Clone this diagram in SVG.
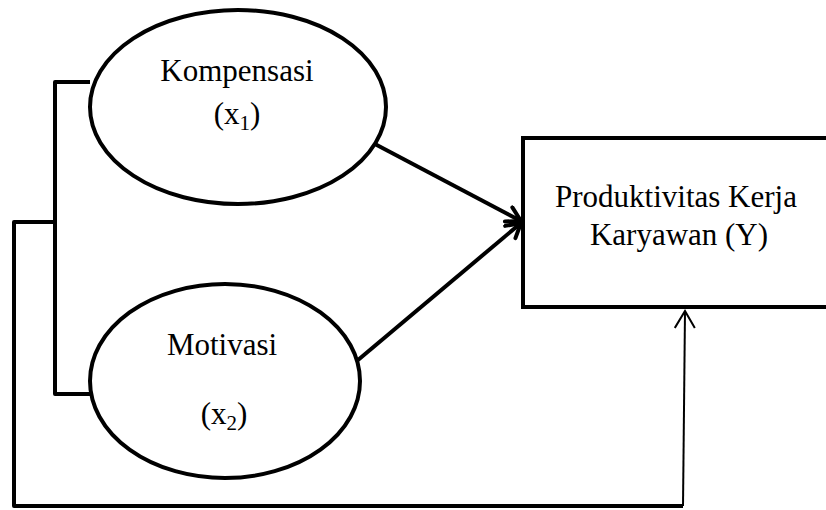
<svg xmlns="http://www.w3.org/2000/svg" width="826" height="510" viewBox="0 0 826 510">
<style>
.shape{fill:#fff;stroke:#000;stroke-width:4}
.ln{fill:none;stroke:#000;stroke-width:4;stroke-linejoin:round}
.thin{fill:none;stroke:#000;stroke-width:2}
text{font-family:"Liberation Serif","Times New Roman",serif;font-size:31px;fill:#000;text-anchor:middle}
.sub{font-size:21px}
</style>
<defs>
<marker id="open" markerWidth="20" markerHeight="20" refX="17" refY="10" orient="auto" markerUnits="userSpaceOnUse">
<path d="M3,2 L17,10 L3,18" fill="none" stroke="#000" stroke-width="4" stroke-linecap="round" stroke-linejoin="round"/>
</marker>
<marker id="openthin" markerWidth="22" markerHeight="24" refX="18" refY="11" orient="auto" markerUnits="userSpaceOnUse">
<path d="M1,1 L18,11 L1,21" fill="none" stroke="#000" stroke-width="2"/>
</marker>
</defs>
<g id="connectors">
<path class="ln" d="M90,82 L55,82 L55,394 L90,394"/>
<path class="ln" d="M55,222 L14,222 L14,506 L683,506"/>
<path class="thin" d="M683,506 L685,311" marker-end="url(#openthin)"/>
<line class="ln" x1="373" y1="143" x2="521" y2="221" marker-end="url(#open)"/>
<line class="ln" x1="358" y1="360" x2="521" y2="223" marker-end="url(#open)"/>
</g>
<g id="kompensasi">
<ellipse class="shape" cx="238" cy="107" rx="148" ry="97"/>
<text x="237" y="81">Kompensasi</text>
<text x="237" y="124">(x<tspan class="sub" dy="6">1</tspan><tspan dy="-6">)</tspan></text>
</g>
<g id="motivasi">
<ellipse class="shape" cx="225" cy="381" rx="135" ry="97"/>
<text x="222" y="355">Motivasi</text>
<text x="224" y="424">(x<tspan class="sub" dy="6">2</tspan><tspan dy="-6">)</tspan></text>
</g>
<g id="produktivitas">
<rect class="shape" x="523" y="138" width="320" height="169"/>
<text x="676" y="207">Produktivitas Kerja</text>
<text x="679" y="245">Karyawan (Y)</text>
</g>
</svg>
